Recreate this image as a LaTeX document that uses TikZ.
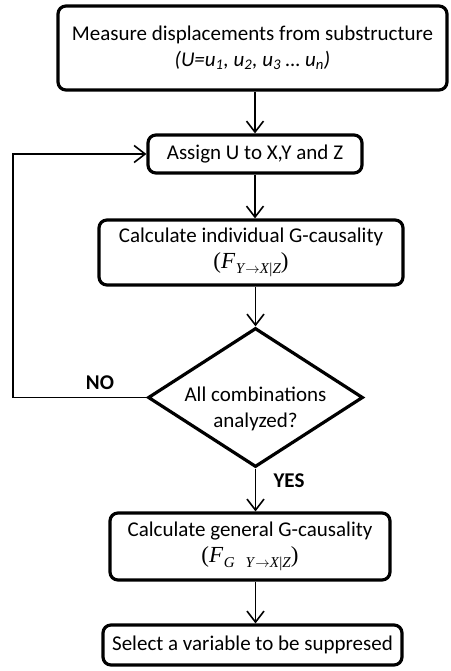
\documentclass[tikz,border=0pt]{standalone}
\usepackage{fontspec}
\setmainfont{Carlito}
\newfontfamily\tnr{Liberation Serif}
\usetikzlibrary{shapes.geometric,arrows.meta}
\newcommand\FormulaF[1]{{\tnr\fontsize{23}{26}\selectfont(\textit{F}\kern0.5pt\raisebox{-5.5pt}{\fontsize{15}{15}\selectfont #1})}}
\newcommand\CondYXZ{\textit{Y}$\rightarrow$\textit{X}|\textit{Z}}
\tikzset{
  box/.style={draw=black, line width=3.2pt, rounded corners=8pt, fill=white,
    align=center, inner sep=4pt, font=\fontsize{21}{26}\selectfont},
  decision/.style={draw=black, line width=3.2pt, diamond, inner sep=0pt, fill=white},
  conn/.style={line width=1.6pt, -{Straight Barb[length=11pt,width=17pt,line width=1.6pt]}},
  flag/.style={font=\fontsize{21}{26}\selectfont\bfseries}
}
\begin{document}
\begin{tikzpicture}[x=1pt,y=-1pt]
\useasboundingbox (0,0) rectangle (450,671);
\node[box, minimum width=389pt, minimum height=84pt] (b1) at (252.5,48)
  {Measure displacements from substructure\\
   \textit{(U=u\textsubscript{1}, u\textsubscript{2}, u\textsubscript{3} … u\textsubscript{n})}};
\node[box, minimum width=214pt, minimum height=38pt] (b2) at (255,154)
  {Assign U to X,Y and Z};
\node[box, minimum width=304pt, minimum height=65pt] (b3) at (251,252.5)
  {Calculate individual G-causality\\ \FormulaF{\CondYXZ}};
\node[decision, minimum width=215pt, minimum height=139pt,
  label={[align=center, yshift=-11pt, font=\fontsize{21}{26}\selectfont]center:All combinations\\analyzed?}] (d) at (255.5,397.5) {};
\node[box, minimum width=280pt, minimum height=67pt] (b4) at (250,546.5)
  {Calculate general G-causality\\ \FormulaF{\textit{G}\hspace{11pt}\CondYXZ}};
\node[box, minimum width=299pt, minimum height=40pt] (b5) at (252.5,645)
  {Select a variable to be suppresed};
\node[flag] (no) at (100,383) {NO};
\node[flag] (yes) at (289,481) {YES};
\coordinate (loop) at (13,397.5);
\draw[conn] (b2.north |- b1.south) -- (b2.north);
\draw[conn] (b2.south) -- (b2.south |- b3.north);
\draw[conn] (d.north |- b3.south) -- (d.north);
\draw[conn] (d.south) -- (d.south |- b4.north);
\draw[conn] (d.south |- b4.south) -- (d.south |- b5.north);
\draw[conn] (d.west) -- (loop) |- (b2.west);
\end{tikzpicture}
\end{document}
